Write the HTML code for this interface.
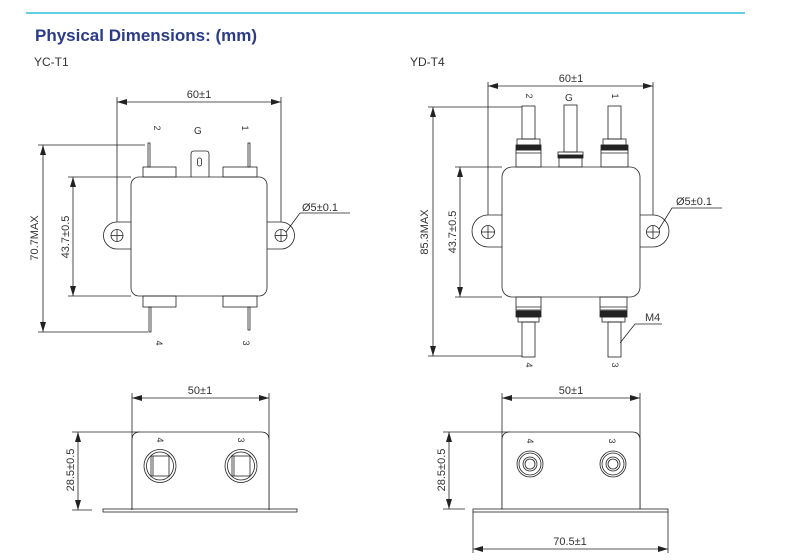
<!DOCTYPE html>
<html><head><meta charset="utf-8"><style>
html,body{margin:0;padding:0;background:#fff;}
svg{display:block;}
text{font-family:"Liberation Sans",Arial,sans-serif;fill:#333;}
</style></head><body>
<svg width="786" height="560" viewBox="0 0 786 560" xmlns="http://www.w3.org/2000/svg">
<defs>
<marker id="a" viewBox="0 0 10 6" refX="10" refY="3" markerWidth="10" markerHeight="6" orient="auto-start-reverse" markerUnits="userSpaceOnUse"><path d="M0,0 L10,3 L0,6 z" fill="#222"/></marker>
</defs>
<line x1="26" y1="13" x2="745" y2="13" stroke="#2bbde0" stroke-width="1.5"/>
<text x="35" y="41" style="font-size:17px;font-weight:bold;fill:#2a3b8a">Physical Dimensions: (mm)</text>
<text x="34" y="66" style="font-size:12px">YC-T1</text>
<text x="410" y="66" style="font-size:12px">YD-T4</text>

<g stroke="#222" stroke-width="0.8" fill="none">
<!-- ===== YC-T1 top ===== -->
<line x1="117" y1="97" x2="117" y2="235"/><line x1="281" y1="97" x2="281" y2="235"/>
<line x1="117" y1="102" x2="281" y2="102" marker-start="url(#a)" marker-end="url(#a)"/>
<line x1="38" y1="145" x2="145" y2="145"/><line x1="38" y1="332" x2="148" y2="332"/>
<line x1="43" y1="145" x2="43" y2="332" marker-start="url(#a)" marker-end="url(#a)"/>
<line x1="68" y1="177" x2="131" y2="177"/><line x1="68" y1="296" x2="131" y2="296"/>
<line x1="73" y1="177" x2="73" y2="296" marker-start="url(#a)" marker-end="url(#a)"/>
<!-- lugs -->
<path d="M131,222 L117,222 A13,13 0 0 0 117,249 L131,249" fill="#fff"/>
<path d="M267,222 L281,222 A13,13 0 0 1 281,249 L267,249" fill="#fff"/>
<circle cx="117" cy="235.5" r="6"/><line x1="111" y1="235.5" x2="123" y2="235.5"/><line x1="117" y1="229.5" x2="117" y2="241.5"/>
<circle cx="281" cy="235.5" r="6"/><line x1="275" y1="235.5" x2="287" y2="235.5"/><line x1="281" y1="229.5" x2="281" y2="241.5"/>
<rect x="131" y="177" width="136" height="119" rx="8" fill="#fff"/>
<!-- tabs -->
<rect x="143" y="167" width="33" height="10"/><rect x="223" y="167" width="34" height="10"/>
<rect x="148" y="143" width="2" height="24"/><rect x="248" y="143" width="2" height="24"/>
<path d="M191,177 L191,154 Q191,151 194,151 L206,151 Q209,151 209,154 L209,177"/>
<rect x="197.5" y="158" width="4" height="8" rx="2"/>
<rect x="143" y="296" width="33" height="11"/><rect x="223" y="296" width="34" height="11"/>
<rect x="149" y="307" width="2" height="25"/><rect x="248" y="307" width="2" height="23"/>
<polyline points="286,232 300,213 350,213"/>

<!-- ===== YD-T4 top ===== -->
<line x1="488" y1="82" x2="488" y2="232"/><line x1="653" y1="82" x2="653" y2="232"/>
<line x1="488" y1="86" x2="653" y2="86" marker-start="url(#a)" marker-end="url(#a)"/>
<line x1="428" y1="107" x2="522" y2="107"/><line x1="428" y1="356" x2="522" y2="356"/>
<line x1="433" y1="107" x2="433" y2="356" marker-start="url(#a)" marker-end="url(#a)"/>
<line x1="455" y1="167" x2="502" y2="167"/><line x1="455" y1="297" x2="502" y2="297"/>
<line x1="460" y1="167" x2="460" y2="297" marker-start="url(#a)" marker-end="url(#a)"/>
<path d="M502,215 L488,215 A16,16 0 0 0 488,247 L502,247" fill="#fff"/>
<path d="M640,215 L653,215 A16,16 0 0 1 653,247 L640,247" fill="#fff"/>
<circle cx="488" cy="232" r="6.5"/><line x1="481.5" y1="232" x2="494.5" y2="232"/><line x1="488" y1="225.5" x2="488" y2="238.5"/>
<circle cx="653" cy="232" r="6.5"/><line x1="646.5" y1="232" x2="659.5" y2="232"/><line x1="653" y1="225.5" x2="653" y2="238.5"/>
<rect x="502" y="167" width="138" height="130" rx="10" fill="#fff"/>
<!-- top terminals -->
<rect x="522" y="106" width="13" height="33"/><rect x="517" y="139" width="23" height="6"/>
<rect x="516" y="145" width="25" height="5" fill="#222"/><rect x="516" y="150" width="25" height="17"/><line x1="516" y1="153" x2="541" y2="153"/>
<rect x="564" y="105" width="13" height="47"/><rect x="558" y="152" width="25" height="3"/>
<rect x="558" y="155" width="25" height="3" fill="#222"/><rect x="559" y="158" width="23" height="9"/>
<rect x="608" y="106" width="13" height="33"/><rect x="603" y="139" width="23" height="6"/>
<rect x="601" y="145" width="27" height="5" fill="#222"/><rect x="601" y="150" width="27" height="17"/><line x1="601" y1="153" x2="628" y2="153"/>
<!-- bottom terminals -->
<rect x="516" y="297" width="25" height="13"/><line x1="516" y1="307" x2="541" y2="307"/>
<rect x="516" y="311" width="25" height="6" fill="#222"/><rect x="518" y="317" width="21" height="5"/>
<rect x="522" y="322" width="13" height="35"/>
<rect x="600" y="297" width="27" height="13"/><line x1="600" y1="307" x2="627" y2="307"/>
<rect x="600" y="311" width="27" height="6" fill="#222"/><rect x="602" y="317" width="23" height="5"/>
<rect x="608" y="322" width="13" height="35"/>
<polyline points="659,229 672,208 722,208"/>
<polyline points="620,343 635,324 662,324"/>

<!-- ===== YC-T1 bottom ===== -->
<line x1="132" y1="393" x2="132" y2="510"/><line x1="269" y1="393" x2="269" y2="510"/>
<line x1="132" y1="398" x2="269" y2="398" marker-start="url(#a)" marker-end="url(#a)"/>
<line x1="72" y1="432" x2="140" y2="432"/><line x1="72" y1="510" x2="92" y2="510"/>
<line x1="78" y1="432" x2="78" y2="510" marker-start="url(#a)" marker-end="url(#a)"/>
<path d="M132,509 L132,440 Q132,432 140,432 L261,432 Q269,432 269,440 L269,509" fill="#fff"/>
<rect x="103" y="509" width="194" height="3"/>
<ellipse cx="160" cy="466" rx="16" ry="16.5"/><ellipse cx="160" cy="466" rx="13.5" ry="14"/>
<rect x="151" y="456" width="18" height="20"/><line x1="153" y1="456" x2="153" y2="476"/>
<ellipse cx="241" cy="466" rx="16" ry="16.5"/><ellipse cx="241" cy="466" rx="13.5" ry="14"/>
<rect x="232" y="456" width="18" height="20"/><line x1="234" y1="456" x2="234" y2="476"/>

<!-- ===== YD-T4 bottom ===== -->
<line x1="502" y1="393" x2="502" y2="509"/><line x1="640" y1="393" x2="640" y2="509"/>
<line x1="502" y1="398" x2="640" y2="398" marker-start="url(#a)" marker-end="url(#a)"/>
<line x1="443" y1="432" x2="510" y2="432"/><line x1="443" y1="509" x2="465" y2="509"/>
<line x1="449" y1="432" x2="449" y2="509" marker-start="url(#a)" marker-end="url(#a)"/>
<path d="M502,509 L502,440 Q502,432 510,432 L632,432 Q640,432 640,440 L640,509" fill="#fff"/>
<rect x="473" y="509" width="195" height="3"/>
<line x1="473" y1="512" x2="473" y2="553"/><line x1="668" y1="512" x2="668" y2="553"/>
<line x1="473" y1="549" x2="668" y2="549" marker-start="url(#a)" marker-end="url(#a)"/>
<circle cx="530" cy="464" r="13"/><circle cx="530" cy="464" r="11"/><circle cx="530" cy="464" r="7"/><circle cx="530" cy="464" r="5"/>
<circle cx="613" cy="464" r="13"/><circle cx="613" cy="464" r="11"/><circle cx="613" cy="464" r="7"/><circle cx="613" cy="464" r="5"/>
</g>

<g style="font-size:11px">
<text x="199" y="98" text-anchor="middle">60±1</text>
<text x="571" y="82" text-anchor="middle">60±1</text>
<text x="200" y="394" text-anchor="middle">50±1</text>
<text x="571" y="394" text-anchor="middle">50±1</text>
<text x="570" y="545" text-anchor="middle">70.5±1</text>
<text x="302" y="211">Ø5±0.1</text>
<text x="676" y="205">Ø5±0.1</text>
<text x="645" y="321">M4</text>
<text x="194" y="134" style="font-size:10px">G</text>
<text x="565" y="101" style="font-size:10px">G</text>
<text transform="translate(38,238) rotate(-90)" text-anchor="middle">70.7MAX</text>
<text transform="translate(69,237) rotate(-90)" text-anchor="middle">43.7±0.5</text>
<text transform="translate(428,232) rotate(-90)" text-anchor="middle">85.3MAX</text>
<text transform="translate(456,232) rotate(-90)" text-anchor="middle">43.7±0.5</text>
<text transform="translate(74,470) rotate(-90)" text-anchor="middle">28.5±0.5</text>
<text transform="translate(445,470) rotate(-90)" text-anchor="middle">28.5±0.5</text>
</g>
<g style="font-size:9px">
<text transform="translate(154,128) rotate(90)" text-anchor="middle">2</text>
<text transform="translate(242,128) rotate(90)" text-anchor="middle">1</text>
<text transform="translate(156,343) rotate(90)" text-anchor="middle">4</text>
<text transform="translate(243,343) rotate(90)" text-anchor="middle">3</text>
<text transform="translate(526,96) rotate(90)" text-anchor="middle">2</text>
<text transform="translate(612,96) rotate(90)" text-anchor="middle">1</text>
<text transform="translate(526,365) rotate(90)" text-anchor="middle">4</text>
<text transform="translate(612,365) rotate(90)" text-anchor="middle">3</text>
<text transform="translate(157,440) rotate(90)" text-anchor="middle">4</text>
<text transform="translate(238,440) rotate(90)" text-anchor="middle">3</text>
<text transform="translate(527,441) rotate(90)" text-anchor="middle">4</text>
<text transform="translate(609,441) rotate(90)" text-anchor="middle">3</text>
</g>
</svg>
</body></html>
